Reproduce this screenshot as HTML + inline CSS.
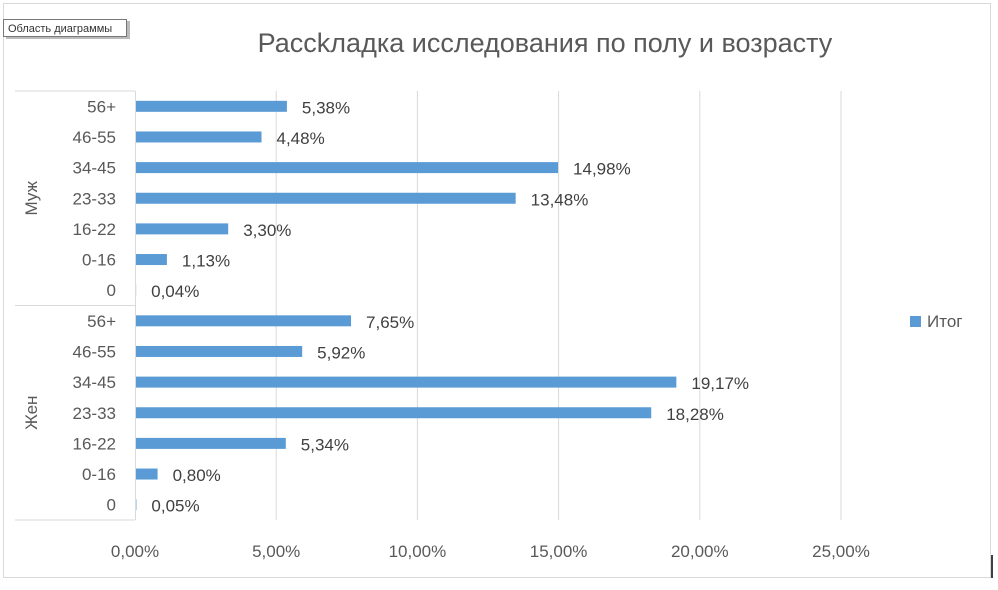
<!DOCTYPE html>
<html><head><meta charset="utf-8"><style>
body{margin:0;background:#fff;font-family:"Liberation Sans","Noto Sans CJK SC",sans-serif;}
svg text{font-family:"Liberation Sans","Noto Sans CJK SC",sans-serif;}
</style></head><body>
<svg id="chart" width="998" height="585" xmlns="http://www.w3.org/2000/svg">
<rect x="3.5" y="3.5" width="987" height="574" fill="#fff" stroke="#d9d9d9"/>
<line x1="992" y1="555" x2="992" y2="578" stroke="#000" stroke-width="1.5"/>
<g>
<rect x="6" y="21" width="124" height="18" fill="#777" opacity="0.5"/>
<rect x="3.5" y="19.5" width="123" height="17" fill="#fff" stroke="#777"/>
<text x="8" y="32" font-size="11" fill="#333">Область диаграммы</text>
</g>
<text x="545" y="52" font-size="27" fill="#595959" text-anchor="middle">Рассkладка исследования по полу и возрасту</text>
<g id="grid"></g><g id="axis"></g><g id="bars"></g>
<g>
<rect x="910" y="316" width="11" height="11" fill="#5b9bd5"/>
<text x="927" y="327" font-size="17" fill="#595959">Итог</text>
</g>
</svg>
<script>
const groups=["Муж","Жен"];
const categories=["56+","46-55","34-45","23-33","16-22","0-16","0"];
const values=[5.38,4.48,14.98,13.48,3.30,1.13,0.04,7.65,5.92,19.17,18.28,5.34,0.80,0.05];
const valueLabels=["5,38%","4,48%","14,98%","13,48%","3,30%","1,13%","0,04%","7,65%","5,92%","19,17%","18,28%","5,34%","0,80%","0,05%"];
const ticks=[0,5,10,15,20,25];
const tickLabels=["0,00%","5,00%","10,00%","15,00%","20,00%","25,00%"];
const NS="http://www.w3.org/2000/svg";
const x0=135,x1=841,yTop=91,yBot=520,xMax=25;
const X=v=>x0+(v/xMax)*(x1-x0);
const n=values.length,step=(yBot-yTop)/n;
const Y=i=>yTop+step*(i+0.5);
function mk(tag,attrs,parent){const e=document.createElementNS(NS,tag);for(const k in attrs)e.setAttribute(k,attrs[k]);parent.appendChild(e);return e;}
const grid=document.getElementById('grid'),axis=document.getElementById('axis'),bars=document.getElementById('bars');
ticks.forEach((t,i)=>{
  if(i>0){const l=mk('line',{x1:X(t),x2:X(t),y1:yTop,y2:yBot,stroke:'#d9d9d9'},grid);
  
  }
  const tx=mk('text',{x:X(t),y:557,'font-size':17,fill:'#595959','text-anchor':'middle'},axis);
  tx.textContent=tickLabels[i];
  
  
});
mk('line',{x1:x0+0.5,x2:x0+0.5,y1:yTop,y2:yBot,stroke:'#d9d9d9'},axis);
const per=categories.length;
for(let g=0;g<=groups.length;g++){
  const yy=yTop+g*per*step;
  mk('line',{x1:15,x2:x0,y1:yy,y2:yy,stroke:'#d9d9d9'},axis);
}
groups.forEach((gname,g)=>{
  const cy=yTop+(g+0.5)*per*step;
  const t=mk('text',{x:0,y:0,'font-size':17,fill:'#595959','text-anchor':'middle',transform:`translate(37,${cy}) rotate(-90)`},axis);
  t.textContent=gname;
  
  
});
values.forEach((v,i)=>{
  const y=Y(i);
  const c=mk('text',{x:116,y:y+6,'font-size':17,fill:'#595959','text-anchor':'end'},axis);
  c.textContent=categories[i%per];
  
  
  const r=mk('rect',{x:x0+1,y:y-5.5,width:Math.max(0,X(v)-x0-1),height:11,fill:'#5b9bd5'},bars);
  
  
  const lb=mk('text',{x:X(v)+15,y:y+7,'font-size':17,fill:'#404040'},bars);
  lb.textContent=valueLabels[i];
  
  
});
</script>
</body></html>
